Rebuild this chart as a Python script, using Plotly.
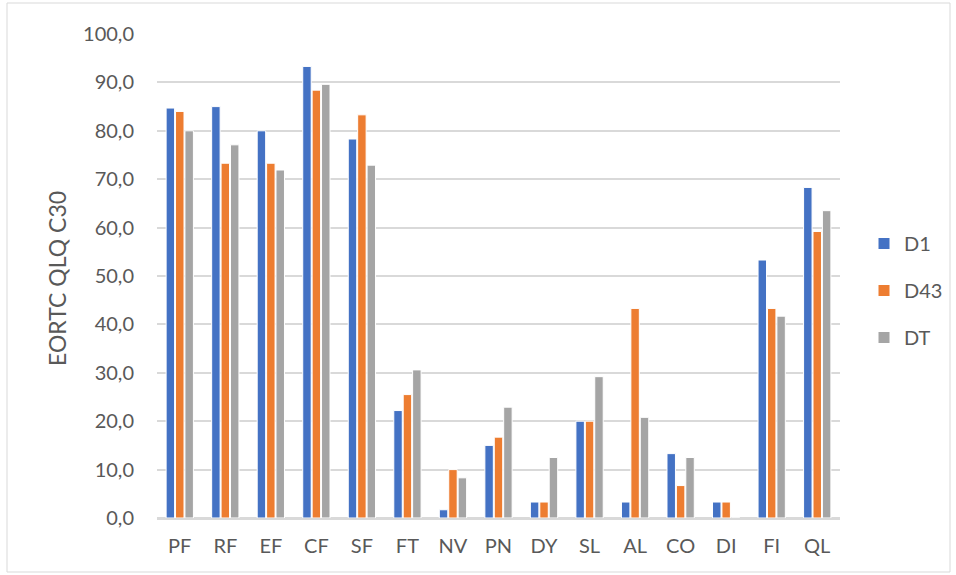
import plotly.graph_objects as go

# EORTC QLQ-C30 scale scores per visit
categories = ["PF", "RF", "EF", "CF", "SF", "FT", "NV", "PN", "DY", "SL", "AL", "CO", "DI", "FI", "QL"]
d1 = [84.7, 85.0, 80.0, 93.3, 78.3, 22.2, 1.7, 15.0, 3.3, 20.0, 3.3, 13.3, 3.3, 53.3, 68.3]
d43 = [84.0, 73.3, 73.3, 88.4, 83.3, 25.5, 10.0, 16.7, 3.3, 20.0, 43.3, 6.7, 3.3, 43.3, 59.2]
dt = [80.0, 77.1, 71.9, 89.6, 72.9, 30.6, 8.3, 22.9, 12.5, 29.2, 20.8, 12.5, 0.0, 41.7, 63.5]

series = [("D1", d1, "#4472C4"), ("D43", d43, "#ED7D31"), ("DT", dt, "#A5A5A5")]
tick_vals = [0, 10, 20, 30, 40, 50, 60, 70, 80, 90, 100]
tick_text = ["0,0", "10,0", "20,0", "30,0", "40,0", "50,0", "60,0", "70,0", "80,0", "90,0", "100,0"]
y_title = "EORTC QLQ C30"

W, H = 956, 575
L, R, T, B = 157, 116, 34, 57
FONT = "Lato"
FS = 20
TXT = "#595959"
GRID = "#D9D9D9"

fig = go.Figure()
for name, vals, col in series:
    fig.add_trace(go.Bar(
        x=categories, y=vals, name=name,
        marker=dict(color=col, line=dict(color="white", width=1)),
        legendgroup=name,
    ))

pw = W - L - R
ph = H - T - B
# thin border around the whole chart area
fig.add_shape(type="rect", xref="paper", yref="paper",
              x0=(7 - L) / pw, x1=(950 - L) / pw,
              y0=(H - B - 572) / ph, y1=(H - B - 3) / ph,
              line=dict(color=GRID, width=1), fillcolor="rgba(0,0,0,0)", layer="below")

# vertical axis title
fig.add_annotation(
    text=y_title, textangle=-90, showarrow=False,
    xref="paper", yref="paper",
    x=(57 - L) / pw, y=(H - B - 279) / ph,
    xanchor="center", yanchor="middle",
    font=dict(family=FONT, size=23, color=TXT),
)

fig.update_layout(
    width=W, height=H,
    margin=dict(l=L, r=R, t=T, b=B, pad=0, autoexpand=False),
    paper_bgcolor="white", plot_bgcolor="white",
    barmode="group", bargap=0.38, bargroupgap=0.1,
    font=dict(family=FONT, size=FS, color=TXT),
    legend=dict(
        xref="container", yref="container",
        x=864 / W, xanchor="left",
        y=1 - 224 / H, yanchor="top",
        font=dict(family=FONT, size=FS, color=TXT),
        tracegroupgap=18, traceorder="grouped",
        bgcolor="rgba(0,0,0,0)",
    ),
    showlegend=True,
)
fig.update_xaxes(
    showgrid=False, showline=True, linecolor=GRID, linewidth=1.5,
    ticks="", tickfont=dict(family=FONT, size=FS, color=TXT),
    ticklabelstandoff=9,
)
fig.update_yaxes(
    range=[0, 100], tickvals=tick_vals, ticktext=tick_text,
    showgrid=True, gridcolor=GRID, gridwidth=1.5,
    zeroline=True, zerolinecolor=GRID, zerolinewidth=1.5,
    showline=False, ticks="",
    tickfont=dict(family=FONT, size=FS, color=TXT),
    ticklabelstandoff=22,
)

fig.write_html("out.html")
